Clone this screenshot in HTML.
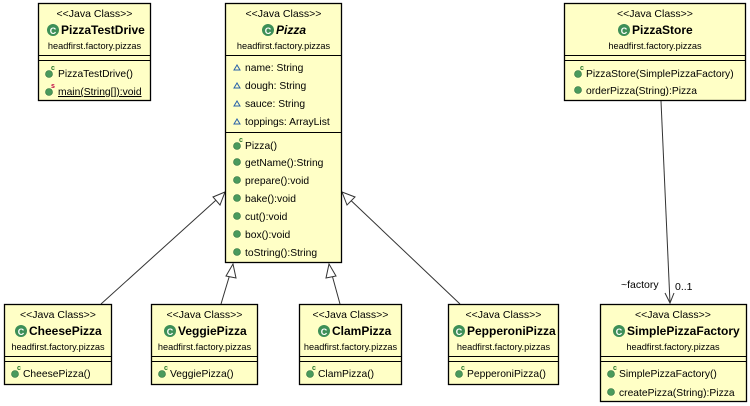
<!DOCTYPE html>
<html><head><meta charset="utf-8"><style>
html,body{margin:0;padding:0;background:#fff;}
svg{display:block;font-family:"Liberation Sans",Arial,sans-serif;}
.st{font-size:10.5px;fill:#000;}
.pk{font-size:9.2px;fill:#000;}
.nm{font-size:12px;font-weight:bold;fill:#000;}
.m{font-size:10.3px;fill:#000;}
.box{fill:#ffffc6;stroke:#000;stroke-width:1.3;}
.ln{stroke:#000;stroke-width:1;}
.dot{fill:#4a9a5c;stroke:#2f7040;stroke-width:.6}
.ci{fill:#3d8f57;}
</style></head><body>
<svg width="750" height="406" viewBox="0 0 750 406">
<g stroke="#333" stroke-width="1" fill="#fff">
<line x1="101" y1="304" x2="225" y2="192"/>
<polygon points="225,192 213,197 220,205"/>
<line x1="221" y1="304" x2="233" y2="264"/>
<polygon points="233,264 226,276 236,278"/>
<line x1="340" y1="304" x2="329" y2="264"/>
<polygon points="329,264 326,278 336,276"/>
<line x1="460" y1="304" x2="342" y2="192"/>
<polygon points="342,192 347,205 355,197"/>
<line x1="661" y1="101" x2="670" y2="303"/>
<polyline points="665,293 670,303 674,293" fill="none"/>
</g>
<text x="621" y="288" class="st">~factory</text>
<text x="675" y="290" class="st">0..1</text>

<rect class="box" x="38.5" y="3.5" width="112" height="97"/>
<line class="ln" x1="38" y1="55.5" x2="151" y2="55.5"/><line class="ln" x1="38" y1="60.5" x2="151" y2="60.5"/>
<text x="94.5" y="17" text-anchor="middle" class="st">&lt;&lt;Java Class&gt;&gt;</text>
<circle class="ci" cx="53" cy="30" r="6"/><text x="53" y="34" text-anchor="middle" fill="#fff" font-size="9" font-weight="bold">C</text>
<text x="61" y="34" class="nm">PizzaTestDrive</text>
<text x="94.5" y="49" text-anchor="middle" class="pk">headfirst.factory.pizzas</text>
<circle class="dot" cx="49" cy="74" r="3.5"/><text x="51" y="70" font-size="7" font-weight="bold" fill="#2a7a2a">c</text>
<text x="58" y="77" class="m">PizzaTestDrive()</text>
<circle class="dot" cx="49" cy="92" r="3.5"/><text x="51" y="88" font-size="7" font-weight="bold" fill="#c00040">s</text>
<text x="58" y="95" class="m" text-decoration="underline">main(String[]):void</text>

<rect class="box" x="225.5" y="3.5" width="116" height="259"/>
<line class="ln" x1="225" y1="55.5" x2="342" y2="55.5"/><line class="ln" x1="225" y1="132.5" x2="342" y2="132.5"/>
<text x="283.5" y="17" text-anchor="middle" class="st">&lt;&lt;Java Class&gt;&gt;</text>
<circle class="ci" cx="268" cy="30" r="6"/><text x="268" y="34" text-anchor="middle" fill="#fff" font-size="9" font-weight="bold">C</text>
<text x="276" y="34" class="nm" font-style="italic">Pizza</text>
<text x="283.5" y="49" text-anchor="middle" class="pk">headfirst.factory.pizzas</text>
<g fill="none" stroke="#2a62a8" stroke-width="1">
<polygon points="234,70 237,65 240,70"/><polygon points="234,88 237,83 240,88"/><polygon points="234,106 237,101 240,106"/><polygon points="234,124 237,119 240,124"/></g>
<text x="245" y="71" class="m">name: String</text>
<text x="245" y="89" class="m">dough: String</text>
<text x="245" y="107" class="m">sauce: String</text>
<text x="245" y="125" class="m">toppings: ArrayList</text>
<circle class="dot" cx="237" cy="146" r="3.5"/><text x="239" y="142" font-size="7" font-weight="bold" fill="#2a7a2a">c</text>
<text x="245" y="149" class="m">Pizza()</text>
<circle class="dot" cx="237" cy="162" r="3.5"/><text x="245" y="166" class="m">getName():String</text>
<circle class="dot" cx="237" cy="180" r="3.5"/><text x="245" y="184" class="m">prepare():void</text>
<circle class="dot" cx="237" cy="198" r="3.5"/><text x="245" y="202" class="m">bake():void</text>
<circle class="dot" cx="237" cy="216" r="3.5"/><text x="245" y="220" class="m">cut():void</text>
<circle class="dot" cx="237" cy="234" r="3.5"/><text x="245" y="238" class="m">box():void</text>
<circle class="dot" cx="237" cy="252" r="3.5"/><text x="245" y="256" class="m">toString():String</text>

<rect class="box" x="564.5" y="3.5" width="181" height="97"/>
<line class="ln" x1="564" y1="55.5" x2="746" y2="55.5"/><line class="ln" x1="564" y1="60.5" x2="746" y2="60.5"/>
<text x="655" y="17" text-anchor="middle" class="st">&lt;&lt;Java Class&gt;&gt;</text>
<circle class="ci" cx="624" cy="30" r="6"/><text x="624" y="34" text-anchor="middle" fill="#fff" font-size="9" font-weight="bold">C</text>
<text x="632" y="34" class="nm">PizzaStore</text>
<text x="655" y="49" text-anchor="middle" class="pk">headfirst.factory.pizzas</text>
<circle class="dot" cx="578" cy="74" r="3.5"/><text x="580" y="70" font-size="7" font-weight="bold" fill="#2a7a2a">c</text>
<text x="586" y="77" class="m">PizzaStore(SimplePizzaFactory)</text>
<circle class="dot" cx="578" cy="90" r="3.5"/><text x="586" y="94" class="m">orderPizza(String):Pizza</text>

<g>
<rect class="box" x="4.5" y="304.5" width="107" height="80"/>
<line class="ln" x1="4" y1="356.5" x2="112" y2="356.5"/><line class="ln" x1="4" y1="361.5" x2="112" y2="361.5"/>
<text x="58" y="318" text-anchor="middle" class="st">&lt;&lt;Java Class&gt;&gt;</text>
<circle class="ci" cx="21" cy="331" r="6"/><text x="21" y="335" text-anchor="middle" fill="#fff" font-size="9" font-weight="bold">C</text>
<text x="29" y="335" class="nm">CheesePizza</text>
<text x="58" y="350" text-anchor="middle" class="pk">headfirst.factory.pizzas</text>
<circle class="dot" cx="15" cy="374" r="3.5"/><text x="17" y="370" font-size="7" font-weight="bold" fill="#2a7a2a">c</text>
<text x="23" y="377" class="m">CheesePizza()</text>
</g>
<g>
<rect class="box" x="151.5" y="304.5" width="106" height="80"/>
<line class="ln" x1="151" y1="356.5" x2="258" y2="356.5"/><line class="ln" x1="151" y1="361.5" x2="258" y2="361.5"/>
<text x="204.5" y="318" text-anchor="middle" class="st">&lt;&lt;Java Class&gt;&gt;</text>
<circle class="ci" cx="170" cy="331" r="6"/><text x="170" y="335" text-anchor="middle" fill="#fff" font-size="9" font-weight="bold">C</text>
<text x="178" y="335" class="nm">VeggiePizza</text>
<text x="204.5" y="350" text-anchor="middle" class="pk">headfirst.factory.pizzas</text>
<circle class="dot" cx="162" cy="374" r="3.5"/><text x="164" y="370" font-size="7" font-weight="bold" fill="#2a7a2a">c</text>
<text x="170" y="377" class="m">VeggiePizza()</text>
</g>
<g>
<rect class="box" x="299.5" y="304.5" width="102" height="80"/>
<line class="ln" x1="299" y1="356.5" x2="402" y2="356.5"/><line class="ln" x1="299" y1="361.5" x2="402" y2="361.5"/>
<text x="350.5" y="318" text-anchor="middle" class="st">&lt;&lt;Java Class&gt;&gt;</text>
<circle class="ci" cx="324" cy="331" r="6"/><text x="324" y="335" text-anchor="middle" fill="#fff" font-size="9" font-weight="bold">C</text>
<text x="332" y="335" class="nm">ClamPizza</text>
<text x="350.5" y="350" text-anchor="middle" class="pk">headfirst.factory.pizzas</text>
<circle class="dot" cx="310" cy="374" r="3.5"/><text x="312" y="370" font-size="7" font-weight="bold" fill="#2a7a2a">c</text>
<text x="318" y="377" class="m">ClamPizza()</text>
</g>
<g>
<rect class="box" x="448.5" y="304.5" width="110" height="80"/>
<line class="ln" x1="448" y1="356.5" x2="559" y2="356.5"/><line class="ln" x1="448" y1="361.5" x2="559" y2="361.5"/>
<text x="503.5" y="318" text-anchor="middle" class="st">&lt;&lt;Java Class&gt;&gt;</text>
<circle class="ci" cx="459" cy="331" r="6"/><text x="459" y="335" text-anchor="middle" fill="#fff" font-size="9" font-weight="bold">C</text>
<text x="467" y="335" class="nm">PepperoniPizza</text>
<text x="503.5" y="350" text-anchor="middle" class="pk">headfirst.factory.pizzas</text>
<circle class="dot" cx="459" cy="374" r="3.5"/><text x="461" y="370" font-size="7" font-weight="bold" fill="#2a7a2a">c</text>
<text x="467" y="377" class="m">PepperoniPizza()</text>
</g>
<g>
<rect class="box" x="600.5" y="304.5" width="146" height="97"/>
<line class="ln" x1="600" y1="356.5" x2="747" y2="356.5"/><line class="ln" x1="600" y1="361.5" x2="747" y2="361.5"/>
<text x="673" y="318" text-anchor="middle" class="st">&lt;&lt;Java Class&gt;&gt;</text>
<circle class="ci" cx="619" cy="331" r="6"/><text x="619" y="335" text-anchor="middle" fill="#fff" font-size="9" font-weight="bold">C</text>
<text x="627" y="335" class="nm">SimplePizzaFactory</text>
<text x="673" y="350" text-anchor="middle" class="pk">headfirst.factory.pizzas</text>
<circle class="dot" cx="611" cy="374" r="3.5"/><text x="613" y="370" font-size="7" font-weight="bold" fill="#2a7a2a">c</text>
<text x="619" y="377" class="m">SimplePizzaFactory()</text>
<circle class="dot" cx="611" cy="392" r="3.5"/><text x="619" y="396" class="m">createPizza(String):Pizza</text>
</g>
</svg>
</body></html>
